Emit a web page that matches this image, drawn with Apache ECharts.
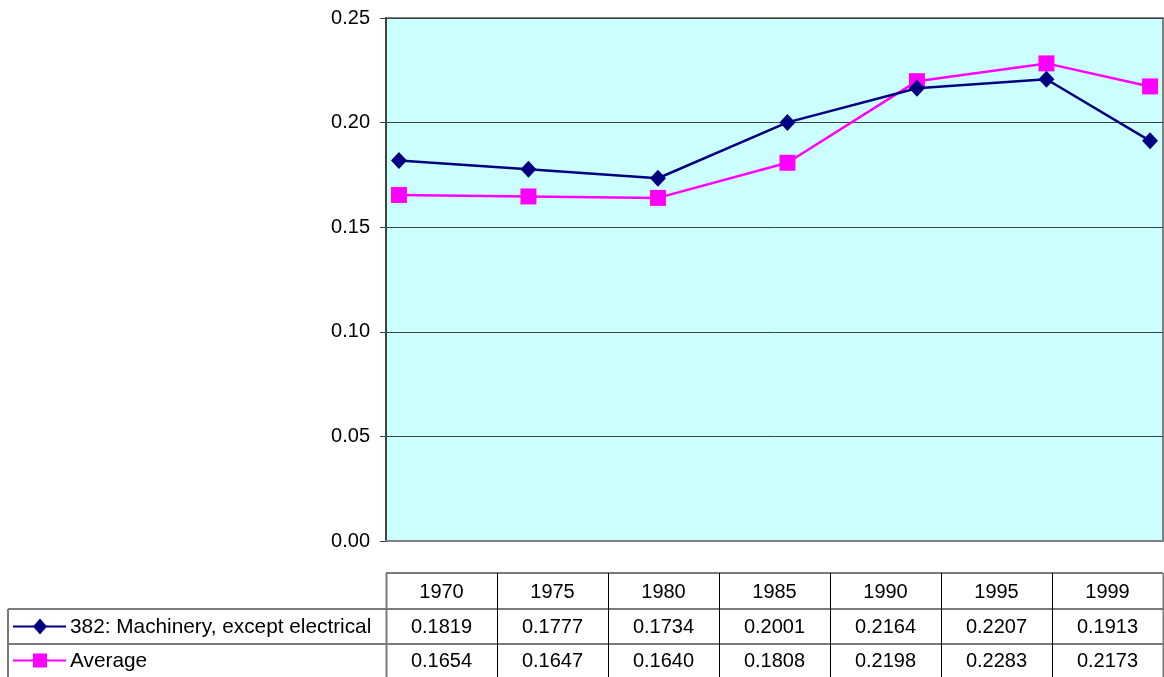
<!DOCTYPE html>
<html>
<head>
<meta charset="utf-8">
<script src="https://cdn.jsdelivr.net/npm/echarts@6/dist/echarts.min.js"></script>
<style>
  html, body { margin: 0; padding: 0; background: #fff; }
  #chart { width: 1164px; height: 677px; }
</style>
</head>
<body>
<div id="chart"></div>
<script>
// Years shown along the horizontal axis and in the data table header
const years = [1970, 1975, 1980, 1985, 1990, 1995, 1999];
// Series values
const machinery = [0.1819, 0.1777, 0.1734, 0.2001, 0.2164, 0.2207, 0.1913];
const average = [0.1654, 0.1647, 0.1640, 0.1808, 0.2198, 0.2283, 0.2173];
const seriesNames = ['382: Machinery, except electrical', 'Average'];
// Value axis ticks
const yTicks = [0, 0.05, 0.10, 0.15, 0.20, 0.25];

const NAVY = '#000080';
const MAGENTA = '#ff00ff';
const FONT = 'Liberation Sans, Arial, sans-serif';

// Plot area layout
const G = { left: 386, top: 18, right: 1163, bottom: 541 };
// Data table layout
const T = { left: 8, colStart: 386, right: 1163, headTop: 573, rowTops: [609, 644], bottom: 679 };

const chart = echarts.init(document.getElementById('chart'), null, { renderer: 'canvas' });

function pairs(vals) { return years.map((y, i) => [y, vals[i]]); }

// Build the data table under the plot
function buildTable() {
  const els = [];
  const colW = (T.right - T.colStart) / years.length;
  const lineGray = { stroke: '#7a7a7a', lineWidth: 2 };
  const lineBlack = { stroke: '#000', lineWidth: 1 };
  // horizontal rules
  els.push({ type: 'line', shape: { x1: T.colStart, y1: T.headTop, x2: T.right, y2: T.headTop }, style: lineGray });
  els.push({ type: 'line', shape: { x1: T.left, y1: T.rowTops[0], x2: T.right, y2: T.rowTops[0] }, style: lineGray });
  els.push({ type: 'line', shape: { x1: T.left, y1: T.rowTops[1], x2: T.right, y2: T.rowTops[1] }, style: lineGray });
  // vertical rules
  els.push({ type: 'line', shape: { x1: T.left, y1: T.rowTops[0], x2: T.left, y2: T.bottom }, style: lineGray });
  for (let i = 0; i <= years.length; i++) {
    const x = Math.round(T.colStart + i * colW) + 0.5;
    els.push({ type: 'line', shape: { x1: x, y1: T.headTop, x2: x, y2: T.bottom }, style: i === 0 || i === years.length ? lineGray : lineBlack });
  }
  const textEl = (x, y, s, align, size) => ({ type: 'text', x: x, y: y, style: { text: s, fill: '#000', font: (size || 20) + 'px ' + FONT, align: align || 'center', verticalAlign: 'middle' } });
  // header
  years.forEach((y, i) => {
    els.push(textEl(T.colStart + (i + 0.5) * colW, (T.headTop + T.rowTops[0]) / 2 + 1, String(y)));
  });
  // rows
  const rows = [machinery, average];
  const colors = [NAVY, MAGENTA];
  const rowBottoms = [T.rowTops[1], T.bottom - 2];
  rows.forEach((vals, r) => {
    const cy = (T.rowTops[r] + rowBottoms[r]) / 2 + 1;
    vals.forEach((v, i) => {
      els.push(textEl(T.colStart + (i + 0.5) * colW, cy, v.toFixed(4)));
    });
    // legend key
    els.push({ type: 'line', shape: { x1: 13, y1: cy - 1, x2: 66, y2: cy - 1 }, style: { stroke: colors[r], lineWidth: 2 } });
    if (r === 0) {
      els.push({ type: 'polygon', shape: { points: [[40, cy - 9], [47, cy - 1], [40, cy + 7], [33, cy - 1]] }, style: { fill: NAVY } });
    } else {
      els.push({ type: 'rect', shape: { x: 33, y: cy - 8, width: 14, height: 14 }, style: { fill: MAGENTA } });
    }
    els.push(textEl(70, cy, seriesNames[r], 'left', 20.8));
  });
  return els;
}

chart.setOption({
  backgroundColor: '#ffffff',
  animation: false,
  grid: {
    left: G.left, top: G.top, width: G.right - G.left, height: G.bottom - G.top,
    show: true, backgroundColor: '#ccffff', borderColor: '#808080', borderWidth: 2
  },
  xAxis: {
    type: 'value', min: 1969.5, max: 1999.5,
    axisLabel: { show: false }, axisTick: { show: false }, splitLine: { show: false },
    axisLine: { show: true, lineStyle: { color: '#808080', width: 2 } }
  },
  yAxis: {
    type: 'value', min: yTicks[0], max: yTicks[yTicks.length - 1], interval: 0.05,
    axisLine: { show: true, lineStyle: { color: '#404040', width: 2 } },
    axisTick: { show: true, inside: false, length: 6, lineStyle: { color: '#404040', width: 1 } },
    axisLabel: { color: '#000', fontSize: 20, fontFamily: FONT, margin: 16, formatter: v => v.toFixed(2) },
    splitLine: { show: true, lineStyle: { color: '#404040', width: 1 } }
  },
  series: [
    {
      name: seriesNames[0], type: 'line', data: pairs(machinery),
      symbol: 'diamond', symbolSize: [16, 17],
      lineStyle: { color: NAVY, width: 2.5 }, itemStyle: { color: NAVY }, z: 3
    },
    {
      name: seriesNames[1], type: 'line', data: pairs(average),
      symbol: 'rect', symbolSize: 16,
      lineStyle: { color: MAGENTA, width: 2.5 }, itemStyle: { color: MAGENTA }, z: 2
    }
  ],
  graphic: buildTable()
});
</script>
</body>
</html>
